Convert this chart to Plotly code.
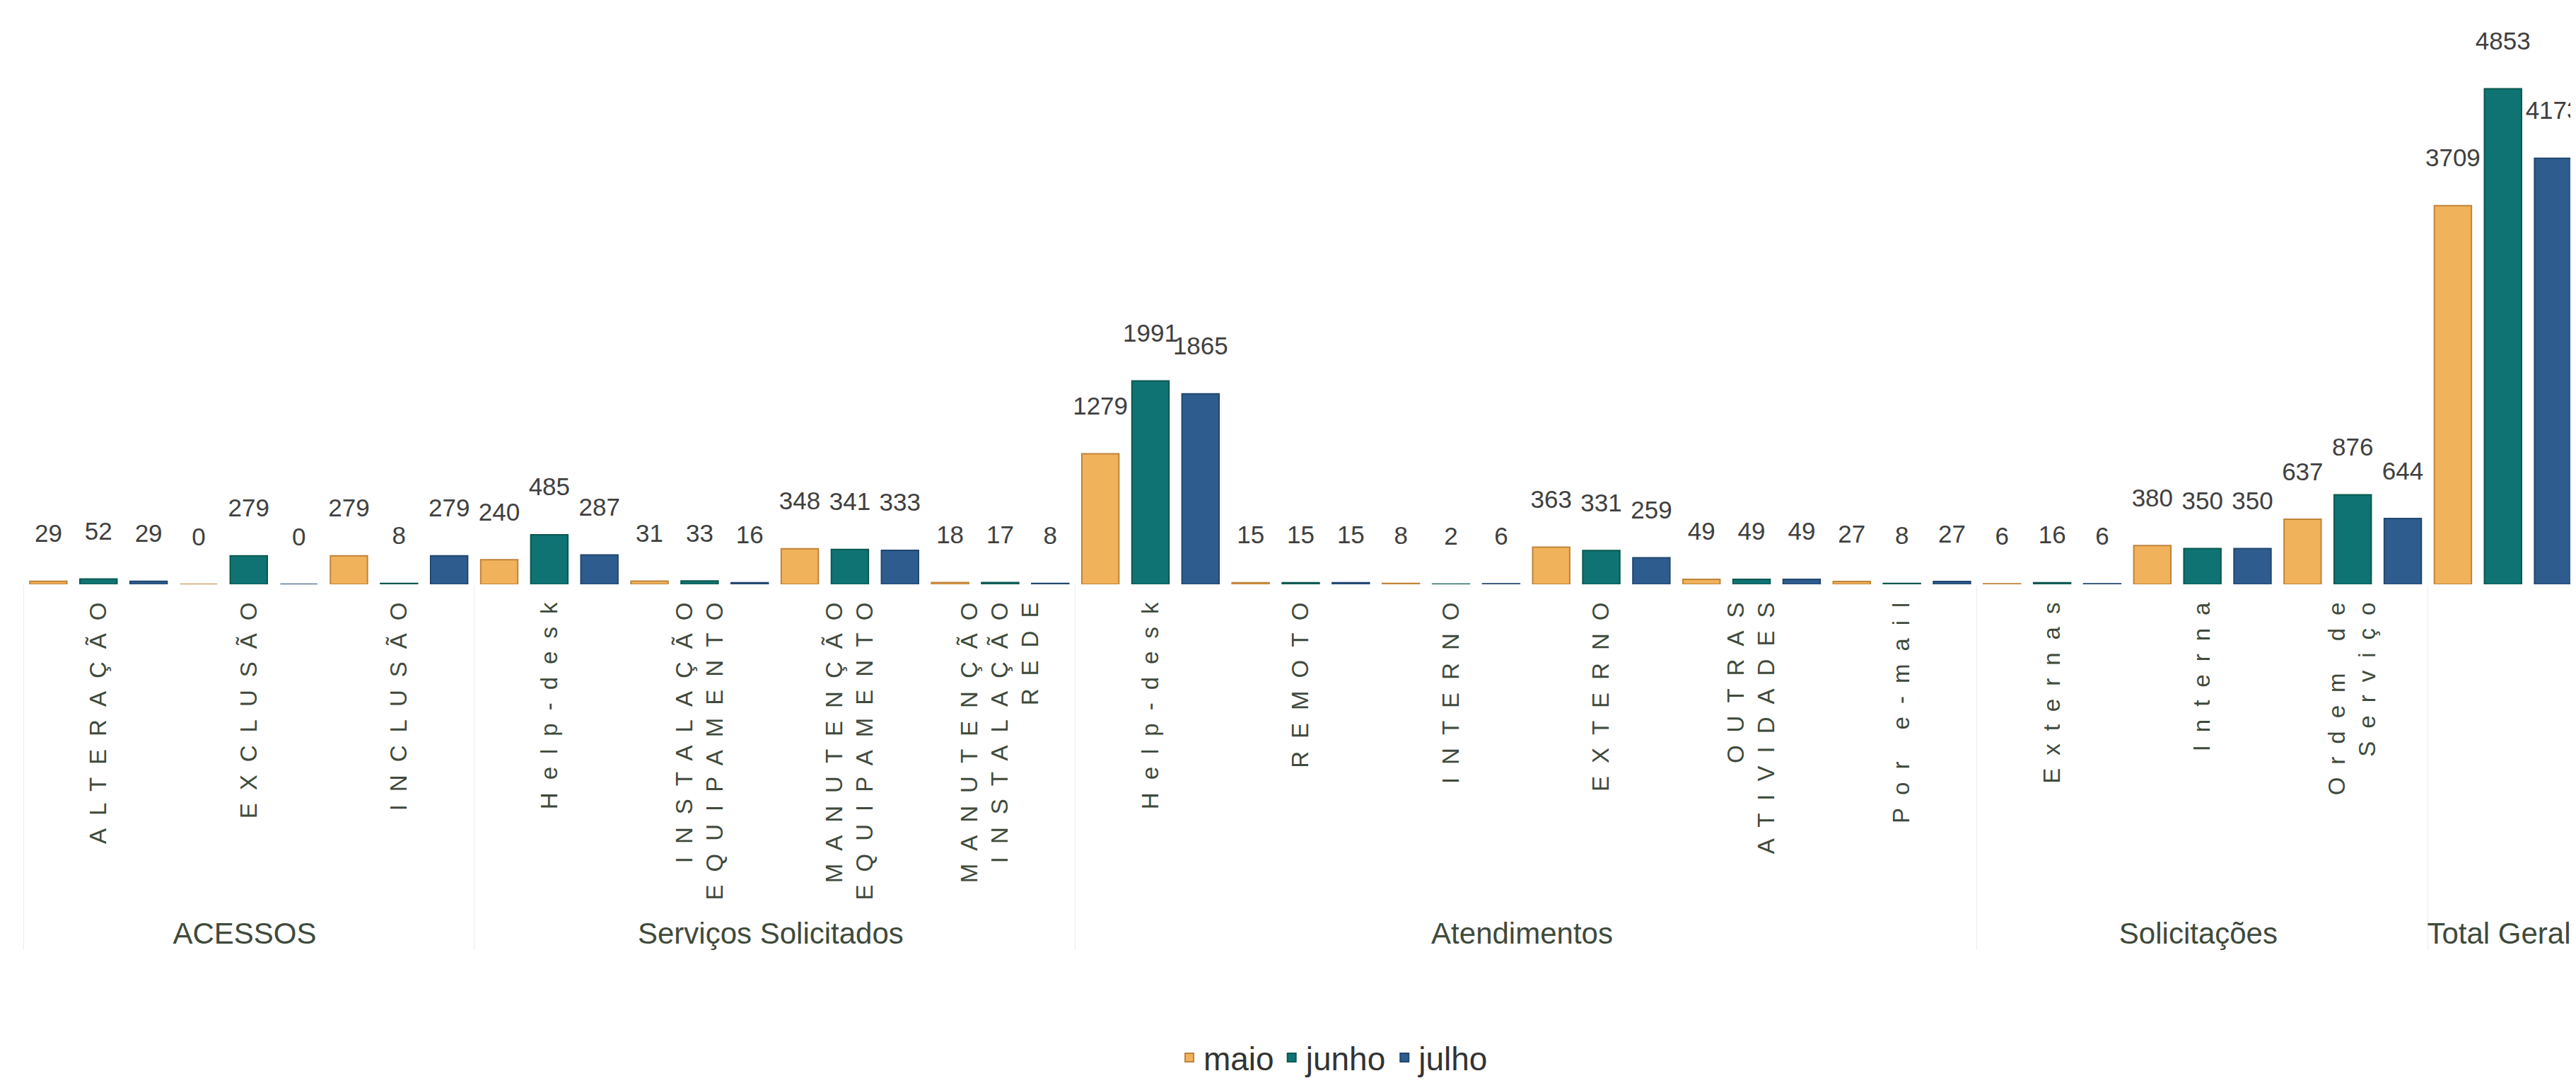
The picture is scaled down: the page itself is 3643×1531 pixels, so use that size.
import plotly.graph_objects as go

# ---- data ----
groups = (["ACESSOS"] * 3 + ["Serviços Solicitados"] * 4 + ["Atendimentos"] * 6
          + ["Solicitações"] * 3 + ["Total Geral"])
items = ["ALTERAÇÃO", "EXCLUSÃO", "INCLUSÃO",
         "Help-desk", "INSTALAÇÃO<br>EQUIPAMENTO", "MANUTENÇÃO<br>EQUIPAMENTO",
         "MANUTENÇÃO<br>INSTALAÇÃO<br>REDE",
         "Help-desk", "REMOTO", "INTERNO", "EXTERNO", "OUTRAS<br>ATIVIDADES", "Por e-mail",
         "Externas", "Interna", "Ordem de<br>Serviço",
         " "]
maio = [29, 0, 279, 240, 31, 348, 18, 1279, 15, 8, 363, 49, 27, 6, 380, 637, 3709]
junho = [52, 279, 8, 485, 33, 341, 17, 1991, 15, 2, 331, 49, 8, 16, 350, 876, 4853]
julho = [29, 0, 279, 287, 16, 333, 8, 1865, 15, 6, 259, 49, 27, 6, 350, 644, 4173]
series_names = ["maio", "junho", "julho"]

# ---- styles ----
colors = ["#F0B25A", "#0F7373", "#2E5C8E"]
edges = ["#C0833A", "#0A5850", "#22476F"]
SPACING = 18


def spaced(label):
    parts = label.split("<br>")
    return "<br>".join(
        f'<span style="letter-spacing:{SPACING}px">{p}</span>' if p.strip() else p
        for p in parts)


def big(label):
    return f'<span style="font-size:42px">{label}</span>'


x = [[big(g) for g in groups], [spaced(i) for i in items]]

fig = go.Figure()
for name, vals, c, e in zip(series_names, [maio, junho, julho], colors, edges):
    fig.add_bar(
        x=x, y=vals, name=name,
        marker=dict(color=c, line=dict(color=e, width=2)),
        texttemplate="%{y}<br>\u00a0", textposition="outside", textangle=0,
        constraintext="none", cliponaxis=False,
        textfont=dict(family="Liberation Sans Narrow, Liberation Sans, Arial, sans-serif",
                      size=35, color="#404040"),
    )

fig.update_layout(
    width=3643, height=1531,
    template="plotly_white",
    paper_bgcolor="white", plot_bgcolor="white",
    margin=dict(l=25, r=5, t=40, b=713),
    barmode="group", bargap=0.0, bargroupgap=0.26,
    font=dict(family="Liberation Sans, Arial, sans-serif", color="#3f4a3c"),
    showlegend=True,
    legend=dict(orientation="h", x=0.513, xanchor="center", y=-0.86, yanchor="middle",
                font=dict(size=46, color="#333333",
                          family="Liberation Sans Narrow, Liberation Sans, Arial, sans-serif"),
                itemwidth=30, tracegroupgap=0),
)
fig.update_xaxes(
    tickangle=-90, tickfont=dict(size=33, color="#3f4a3c",
                                 family="Liberation Sans, Arial, sans-serif"),
    showgrid=False, showline=False, ticks="", zeroline=False,
    showdividers=True, dividercolor="#ececec", dividerwidth=1,
    automargin=False,
)
fig.update_yaxes(visible=False, range=[0, 5390], showgrid=False, zeroline=False)

fig.write_html("out.html")
